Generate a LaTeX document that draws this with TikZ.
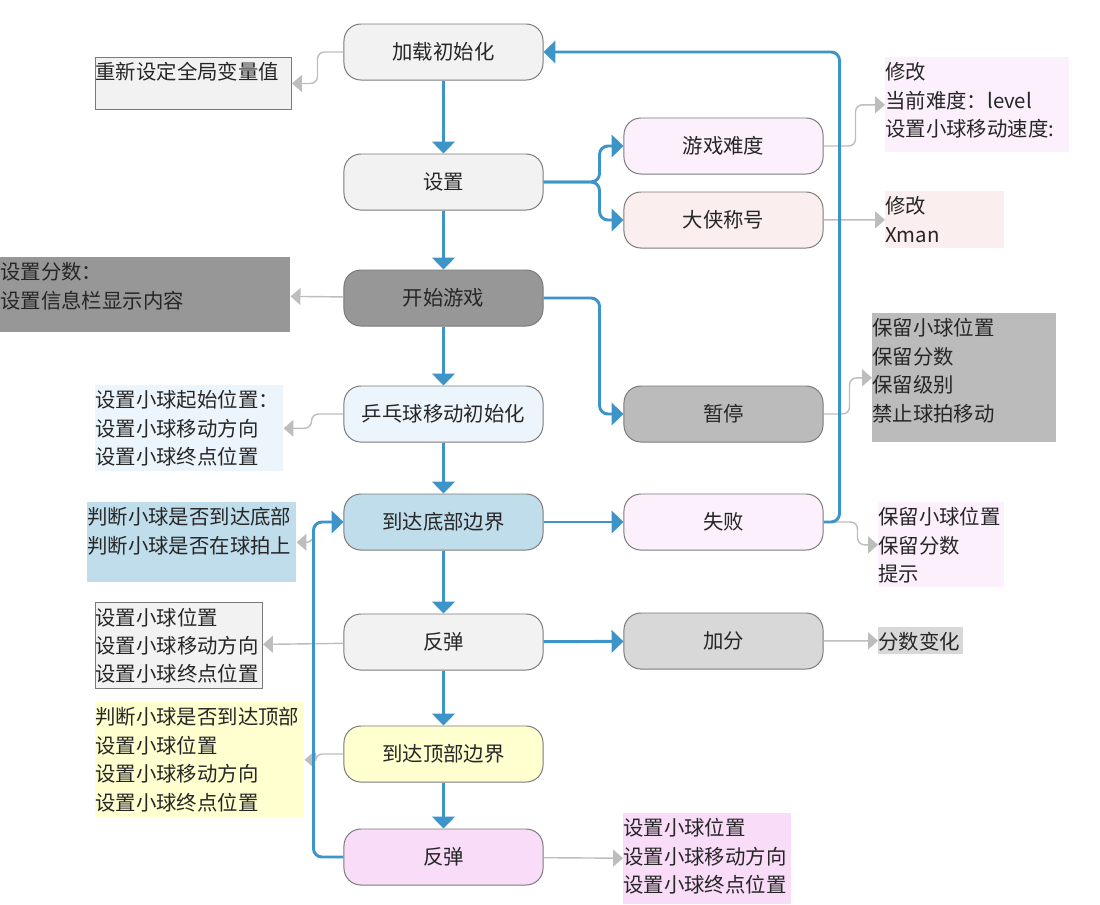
\documentclass[tikz,border=0pt]{standalone}
\usepackage{fontspec}
\setmainfont{Noto Sans CJK SC}
\usetikzlibrary{arrows.meta}

\definecolor{flowblue}{HTML}{3D94C8}
\definecolor{linkgray}{HTML}{BDBDBD}
\definecolor{boxline}{HTML}{7A7A7A}
\definecolor{plaingray}{HTML}{F2F2F2}
\definecolor{darkgray}{HTML}{979797}
\definecolor{midgray}{HTML}{BBBBBB}
\definecolor{lightgray}{HTML}{D8D8D8}
\definecolor{paleblue}{HTML}{EDF5FC}
\definecolor{skyblue}{HTML}{C0DDEB}
\definecolor{paleyellow}{HTML}{FFFFCF}
\definecolor{pink}{HTML}{F8DCF8}
\definecolor{palepink}{HTML}{FCF0FC}
\definecolor{palerose}{HTML}{FBEEEE}

\newcommand{\memo}[3]{\parbox[t][#2][t]{#1}{\rule{0pt}{16pt}#3}}

\tikzset{
  stepbox/.style={draw=boxline, line width=0.7pt, rounded corners=12pt,
    minimum width=4.975cm, minimum height=1.4cm, inner sep=0pt},
  memo/.style={anchor=north west, inner sep=0pt, align=left},
  flow/.style={draw=flowblue, line width=2.1pt, rounded corners=6pt,
    -{Triangle[width=16pt,length=8.5pt]}},
  link/.style={draw=linkgray, line width=1pt, rounded corners=5pt,
    -{Triangle[width=12pt,length=7pt]}},
}

\begin{document}
\begin{tikzpicture}[x=0.025cm, y=-0.025cm,
  every node/.style={font=\fontsize{14.5}{20.2}\selectfont, text=black!85}]
  \useasboundingbox (0,0) rectangle (1100,904);

  % main column
  \node[stepbox, fill=plaingray] (LoadInit)  at (443.5,52)  {加载初始化};
  \node[stepbox, fill=plaingray] (Settings)  at (443.5,182) {设置};
  \node[stepbox, fill=darkgray]  (StartGame) at (443.5,298) {开始游戏};
  \node[stepbox, fill=paleblue]  (BallInit)  at (443.5,414) {乒乓球移动初始化};
  \node[stepbox, fill=skyblue]   (HitBottom) at (443.5,522) {到达底部边界};
  \node[stepbox, fill=plaingray] (Bounce)    at (443.5,642) {反弹};
  \node[stepbox, fill=paleyellow] (HitTop)   at (443.5,754) {到达顶部边界};
  \node[stepbox, fill=pink]      (BounceTop) at (443.5,857) {反弹};

  % right column
  \node[stepbox, fill=palepink] (Difficulty) at (723.5,146) {游戏难度};
  \node[stepbox, fill=palerose] (HeroTitle)  at (723.5,220) {大侠称号};
  \node[stepbox, fill=midgray]  (Pause)      at (723.5,414) {暂停};
  \node[stepbox, fill=palepink] (Fail)       at (723.5,522) {失败};
  \node[stepbox, fill=lightgray] (AddScore)  at (723.5,641) {加分};

  % notes
  \node[memo, fill=plaingray, draw=boxline, line width=0.7pt] (ResetNote) at (95,57)
    {\memo{4.9cm}{1.3cm}{重新设定全局变量值}};
  \node[memo, fill=darkgray] (ScoreNote) at (0,257)
    {\memo{7.25cm}{1.875cm}{设置分数：\\设置信息栏显示内容}};
  \node[memo, fill=paleblue] (BallNote) at (95,385)
    {\memo{4.7cm}{2.15cm}{设置小球起始位置：\\设置小球移动方向\\设置小球终点位置}};
  \node[memo, fill=skyblue] (BottomNote) at (87,502)
    {\memo{5.225cm}{2cm}{判断小球是否到达底部\\判断小球是否在球拍上}};
  \node[memo, fill=plaingray, draw=boxline, line width=0.7pt] (BounceNote) at (95,602)
    {\memo{4.175cm}{2.15cm}{设置小球位置\\设置小球移动方向\\设置小球终点位置}};
  \node[memo, fill=paleyellow] (TopNote) at (95,702)
    {\memo{5.225cm}{2.875cm}{判断小球是否到达顶部\\设置小球位置\\设置小球移动方向\\设置小球终点位置}};
  \node[memo, fill=pink] (BounceTopNote) at (623,813)
    {\memo{4.2cm}{2.275cm}{设置小球位置\\设置小球移动方向\\设置小球终点位置}};
  \node[memo, fill=palepink] (LevelNote) at (885,57)
    {\memo{4.6cm}{2.375cm}{修改\\当前难度：level\\设置小球移动速度:}};
  \node[memo, fill=palerose] (HeroNote) at (885,191)
    {\memo{2.975cm}{1.425cm}{修改\\Xman}};
  \node[memo, fill=midgray] (PauseNote) at (872,313)
    {\memo{4.6cm}{3.225cm}{保留小球位置\\保留分数\\保留级别\\禁止球拍移动}};
  \node[memo, fill=palepink] (FailNote) at (878,502)
    {\memo{3.15cm}{2.125cm}{保留小球位置\\保留分数\\提示}};
  \node[memo, fill=lightgray] (GainNote) at (878,627)
    {\memo{2.125cm}{0.675cm}{分数变化}};

  % gray links to notes
  \draw[link] (LoadInit.west) -- ++(-26,0) |- (ResetNote.east);
  \draw[link] (StartGame) -- (ScoreNote);
  \draw[link] (BallInit.west) -- ++(-32,0) |- (BallNote.east);
  \draw[link] (HitBottom.west) -- ++(-30,0) |- (BottomNote.east);
  \draw[link] (Bounce) -- (BounceNote);
  \draw[link] (HitTop.west) -- ++(-28,0) |- (TopNote.east);
  \draw[link] (BounceTop) -- (BounceTopNote);
  \draw[link] (Difficulty.east) -- ++(32,0) |- (LevelNote.west);
  \draw[link] (HeroTitle) -- (HeroNote);
  \draw[link] (Pause.east) -- ++(26,0) |- (PauseNote.west);
  \draw[link] (Fail.east) -- ++(34,0) |- (FailNote.west);
  \draw[link] (AddScore) -- (GainNote);

  % blue flow
  \draw[flow] (LoadInit) -- (Settings);
  \draw[flow] (Settings) -- (StartGame);
  \draw[flow] (StartGame) -- (BallInit);
  \draw[flow] (BallInit) -- (HitBottom);
  \draw[flow] (HitBottom) -- (Bounce);
  \draw[flow] (Bounce) -- (HitTop);
  \draw[flow] (HitTop) -- (BounceTop);
  \draw[flow] (Settings.east) -- ++(56,0) |- (Difficulty.west);
  \draw[flow] (Settings.east) -- ++(56,0) |- (HeroTitle.west);
  \draw[flow] (StartGame.east) -- ++(56,0) |- (Pause.west);
  \draw[flow] (HitBottom) -- (Fail);
  \draw[flow] (Bounce) -- (AddScore);
  \draw[flow] (Fail.east) -- ++(16,0) |- (LoadInit.east);
  \draw[flow] (BounceTop.west) -- ++(-30,0) |- (HitBottom.west);
\end{tikzpicture}
\end{document}
